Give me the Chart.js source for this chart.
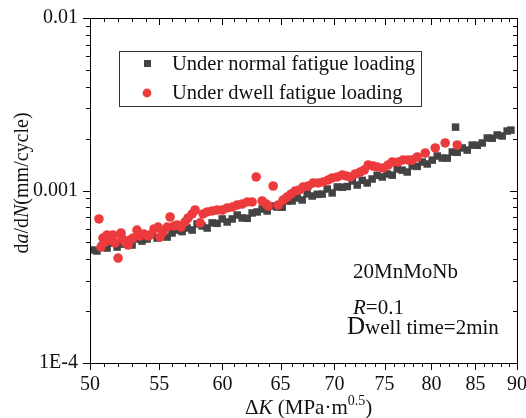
<!DOCTYPE html>
<html><head><meta charset="utf-8">
<script src="https://cdn.jsdelivr.net/npm/chart.js@4/dist/chart.umd.min.js"></script>
<style>html,body{margin:0;padding:0;background:#fff}#wrap{width:526px;height:418px}</style>
</head><body><div id="wrap"><canvas id="c" width="526" height="418"></canvas></div>
<script>
// ---- data ----
const normalK = [50.14,50.48,50.83,51.19,51.54,51.90,52.25,52.61,52.98,53.34,53.71,54.09,54.46,54.84,55.21,55.60,55.98,56.37,56.76,57.15,
  57.55,57.94,58.34,58.75,59.15,59.56,59.98,60.39,60.81,61.23,61.65,62.08,62.50,62.94,63.37,63.81,64.25,64.69,65.14,65.59,
  66.04,66.50,66.96,67.42,67.89,68.36,68.83,69.31,69.78,70.27,70.76,71.25,71.74,72.23,72.73,73.23,73.73,74.24,74.76,75.28,
  75.80,76.32,76.84,77.38,77.91,78.45,78.99,79.54,80.09,80.64,81.20,81.76,82.33,82.89,83.46,84.04,84.62,85.21,85.80,86.39,
  86.98,87.58,88.18,88.79,89.25,82.70];
const normalRate = [4.52e-4,4.46e-4,4.77e-4,4.64e-4,4.96e-4,4.70e-4,4.89e-4,5.02e-4,4.83e-4,5.23e-4,5.09e-4,5.23e-4,5.56e-4,5.30e-4,5.59e-4,5.37e-4,5.67e-4,5.90e-4,5.78e-4,6.06e-4,
  5.90e-4,6.40e-4,6.23e-4,6.06e-4,6.49e-4,6.45e-4,6.84e-4,6.57e-4,6.84e-4,7.21e-4,6.93e-4,6.90e-4,7.41e-4,7.51e-4,7.81e-4,7.61e-4,8.13e-4,8.02e-4,8.00e-4,8.69e-4,
  8.70e-4,9.05e-4,8.81e-4,9.55e-4,9.29e-4,9.50e-4,9.53e-4,1.020e-3,9.68e-4,1.048e-3,1.045e-3,1.055e-3,1.136e-3,1.076e-3,1.145e-3,1.106e-3,1.166e-3,1.225e-3,1.198e-3,1.247e-3,
  1.227e-3,1.333e-3,1.312e-3,1.280e-3,1.387e-3,1.380e-3,1.463e-3,1.425e-3,1.500e-3,1.585e-3,1.543e-3,1.540e-3,1.672e-3,1.665e-3,1.764e-3,1.715e-3,1.833e-3,1.830e-3,1.886e-3,2.016e-3,
  2.010e-3,2.098e-3,2.070e-3,2.212e-3,2.240e-3,2.330e-3];
const dwellK = [50.62,50.76,50.90,51.04,51.19,51.40,51.61,51.75,51.97,52.18,52.25,52.47,52.69,52.83,53.05,53.34,53.56,53.86,54.16,54.31,
  54.61,54.91,55.06,55.29,55.60,55.83,56.14,56.37,56.68,56.99,57.23,57.55,57.78,58.18,58.42,58.75,59.15,59.56,59.98,60.39,
  60.81,61.23,61.65,62.08,62.50,62.85,63.37,63.72,63.90,64.34,64.78,65.23,65.59,65.95,66.32,66.69,67.05,67.51,67.98,68.45,
  68.93,69.40,69.78,70.27,70.76,71.15,71.54,72.03,72.53,72.93,73.33,73.84,74.24,74.86,75.38,75.80,76.42,76.95,77.48,77.91,
  78.45,79.32,80.42,81.53,82.89];
const dwellRate = [6.84e-4,4.70e-4,5.30e-4,5.02e-4,5.52e-4,5.16e-4,5.52e-4,4.96e-4,4.06e-4,5.67e-4,5.30e-4,5.02e-4,4.83e-4,5.16e-4,5.30e-4,5.90e-4,5.45e-4,5.59e-4,5.45e-4,5.52e-4,
  5.98e-4,6.14e-4,5.37e-4,5.74e-4,6.14e-4,7.02e-4,6.23e-4,6.31e-4,6.14e-4,6.57e-4,6.93e-4,7.31e-4,7.71e-4,6.49e-4,7.31e-4,7.51e-4,7.61e-4,7.71e-4,7.70e-4,7.92e-4,
  8.02e-4,8.24e-4,8.35e-4,8.58e-4,8.58e-4,1.198e-3,8.69e-4,8.35e-4,8.13e-4,1.062e-3,8.24e-4,8.81e-4,9.17e-4,9.55e-4,9.94e-4,1.007e-3,1.048e-3,1.062e-3,1.106e-3,1.106e-3,
  1.121e-3,1.151e-3,1.182e-3,1.198e-3,1.230e-3,1.214e-3,1.198e-3,1.247e-3,1.280e-3,1.315e-3,1.406e-3,1.387e-3,1.369e-3,1.351e-3,1.406e-3,1.463e-3,1.463e-3,1.503e-3,1.503e-3,1.500e-3,
  1.564e-3,1.650e-3,1.764e-3,1.886e-3,1.836e-3];
const xTickValues = [50,55,60,65,70,75,80,85,90];
const xTickLabels = ['50','55','60','65','70','75','80','85','90'];
const yTickValues = [1e-4,1e-3,1e-2];
const yTickLabels = ['1E-4','0.001','0.01'];
const seriesNames = ['Under normal fatigue loading','Under dwell fatigue loading'];

const NORMAL_COLOR = '#434343';
const DWELL_COLOR = '#ec3a3d';
const SERIF = '"Liberation Serif","Times New Roman",serif';

function pts(xs, ys){ return xs.map((x,i)=>({x:x, y:ys[i]})); }

const decor = {
  id:'decor',
  afterDatasetsDraw(chart){
    const ctx = chart.ctx, a = chart.chartArea, xs = chart.scales.x, ys = chart.scales.y;
    ctx.save();
    ctx.strokeStyle = '#000'; ctx.lineWidth = 1;
    ctx.beginPath();
    for (let k = xs.min; k <= xs.max + 1e-9; k += 1) {
      const px = Math.round(xs.getPixelForValue(k)) + 0.5;
      const len = (Math.round(k) % 5 === 0) ? 7 : 4;
      ctx.moveTo(px, a.bottom); ctx.lineTo(px, a.bottom + len);
      ctx.moveTo(px, a.top); ctx.lineTo(px, a.top + len);
    }
    for (let e = -4; e <= -2; e++) {
      for (let m = 1; m <= 9; m++) {
        const v = m * Math.pow(10, e);
        if (v > ys.max * 1.0001) break;
        const py = Math.round(ys.getPixelForValue(v)) + 0.5;
        const len = (m === 1) ? 7 : 4;
        ctx.moveTo(a.left - len, py); ctx.lineTo(a.left, py);
        ctx.moveTo(a.right - len, py); ctx.lineTo(a.right, py);
      }
    }
    ctx.stroke();
    ctx.strokeRect(Math.round(a.left)+0.5, Math.round(a.top)+0.5, Math.round(a.right-a.left), Math.round(a.bottom-a.top));

    // legend
    ctx.strokeStyle = '#333';
    ctx.strokeRect(119.5, 51.5, 302, 55);
    ctx.fillStyle = NORMAL_COLOR;
    ctx.fillRect(144, 60, 7, 7);
    ctx.fillStyle = DWELL_COLOR;
    ctx.beginPath(); ctx.arc(147, 93, 4.4, 0, Math.PI*2); ctx.fill();
    ctx.fillStyle = '#111';
    ctx.font = '20.5px ' + SERIF;
    ctx.textBaseline = 'alphabetic'; ctx.textAlign = 'left';
    ctx.fillText(seriesNames[0], 172, 70);
    ctx.fillText(seriesNames[1], 172, 99);

    // annotations
    ctx.font = '21px ' + SERIF;
    ctx.fillText('20MnMoNb', 353, 278);
    let x = 353;
    ctx.font = 'italic 21px ' + SERIF;
    ctx.fillText('R', x, 314); x += ctx.measureText('R').width;
    ctx.font = '21px ' + SERIF;
    ctx.fillText('=0.1', x, 314);
    x = 347;
    ctx.font = '25px ' + SERIF;
    ctx.fillText('D', x, 334); x += ctx.measureText('D').width;
    ctx.font = '21px ' + SERIF;
    ctx.fillText('well time=2min', x, 334);

    // x axis title
    x = 245; const by = 414;
    ctx.font = '21px ' + SERIF;
    ctx.fillText('\u0394', x, by); x += ctx.measureText('\u0394').width;
    ctx.font = 'italic 21px ' + SERIF;
    ctx.fillText('K', x, by); x += ctx.measureText('K').width;
    ctx.font = '21px ' + SERIF;
    ctx.fillText(' (MPa\u00b7m', x, by); x += ctx.measureText(' (MPa\u00b7m').width;
    ctx.font = '14px ' + SERIF;
    ctx.fillText('0.5', x, by - 9); x += ctx.measureText('0.5').width;
    ctx.font = '21px ' + SERIF;
    ctx.fillText(')', x, by);

    // y axis title (rotated)
    ctx.save();
    ctx.translate(28, 183);
    ctx.rotate(-Math.PI/2);
    const parts = [['d',''],['a','italic '],['/d',''],['N','italic '],['(mm/cycle)','']];
    let total = 0;
    parts.forEach(p=>{ ctx.font = p[1] + '20px ' + SERIF; total += ctx.measureText(p[0]).width; });
    let tx = -total/2;
    parts.forEach(p=>{ ctx.font = p[1] + '20px ' + SERIF; ctx.fillText(p[0], tx, 0); tx += ctx.measureText(p[0]).width; });
    ctx.restore();
    ctx.restore();
  }
};

new Chart(document.getElementById('c'), {
  type: 'scatter',
  data: {
    datasets: [
      { label: seriesNames[1], data: pts(dwellK, dwellRate), pointStyle: 'circle', pointRadius: 4.8,
        backgroundColor: DWELL_COLOR, borderWidth: 0, pointHoverRadius: 4.8 },
      { label: seriesNames[0], data: pts(normalK, normalRate), pointStyle: 'rect', pointRadius: 5.3,
        backgroundColor: NORMAL_COLOR, borderWidth: 0, pointHoverRadius: 5.3 }
    ]
  },
  options: {
    responsive: false, animation: false, devicePixelRatio: 1,
    layout: { padding: { top: 18, right: 9, left: 0, bottom: 0 } },
    plugins: { legend: { display: false }, tooltip: { enabled: false } },
    scales: {
      x: {
        type: 'logarithmic', min: 50, max: 90,
        grid: { display: false, drawTicks: false }, border: { display: false },
        afterBuildTicks(s){ s.ticks = xTickValues.map(v=>({value:v})); },
        afterFit(s){ s.height = 55; s.paddingLeft = 0; s.paddingRight = 0; },
        ticks: { autoSkip: false, maxRotation: 0, padding: 10, color: '#111',
          font: { family: SERIF, size: 20 },
          callback(v, i){ return xTickLabels[i]; } }
      },
      y: {
        type: 'logarithmic', min: 1e-4, max: 1e-2,
        grid: { display: false, drawTicks: false }, border: { display: false },
        afterBuildTicks(s){ s.ticks = yTickValues.map(v=>({value:v})); },
        afterFit(s){ s.width = 90; s.paddingTop = 0; s.paddingBottom = 0; },
        ticks: { autoSkip: false, padding: 12, color: '#111',
          font: { family: SERIF, size: 20 },
          callback(v, i){ return yTickLabels[i]; } }
      }
    }
  },
  plugins: [decor]
});
</script>
</body></html>
